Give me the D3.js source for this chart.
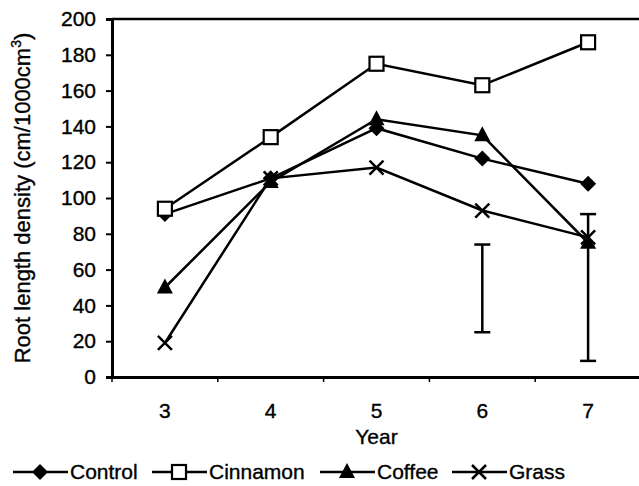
<!DOCTYPE html>
<html>
<head>
<meta charset="utf-8">
<script src="https://cdn.jsdelivr.net/npm/d3@7"></script>
<style>
  body { margin: 0; background: #fff; }
  svg { font-family: "Liberation Sans", Arial, sans-serif; }
  svg text { stroke: #000; stroke-width: 0.35px; }
</style>
</head>
<body>
<svg></svg>
<script>
let years = [3, 4, 5, 6, 7];
let control = [91, 111, 139, 122, 108];
let cinnamon = [94, 134, 175, 163, 187];
let coffee = [50, 109, 144, 135, 75];
let grass = [19, 111, 117, 93, 78];
let errYears = [6, 7];
let errLow = [25, 9];
let errHigh = [74, 91];
let yTicks = [0, 20, 40, 60, 80, 100, 120, 140, 160, 180, 200];

let width = 639;
let height = 486;
let plotLeft = 112, plotRight = 641, plotTop = 19, plotBottom = 377;
let fontSize = 21;

let svg = d3.select("svg").attr("width", width).attr("height", height);

let xScale = d3.scaleBand().domain(years).range([plotLeft, plotRight]);
let yScale = d3.scaleLinear().domain([0, 200]).range([plotBottom, plotTop]);
let xc = d => xScale(d) + xScale.bandwidth() / 2;

let series = [
  { name: "Control", values: control, shape: "diamond" },
  { name: "Cinnamon", values: cinnamon, shape: "square" },
  { name: "Coffee", values: coffee, shape: "triangle" },
  { name: "Grass", values: grass, shape: "cross" },
];

let drawMarker = (g, shape, x, y) => {
  if (shape == "diamond") {
    g.append("path").attr("d", "M0,-8L8,0L0,8L-8,0Z")
      .attr("transform", "translate(" + x + "," + y + ")").attr("fill", "#000");
  } else if (shape == "square") {
    g.append("rect").attr("x", x - 7).attr("y", y - 7).attr("width", 14).attr("height", 14)
      .attr("fill", "#fff").attr("stroke", "#000").attr("stroke-width", 2.2);
  } else if (shape == "triangle") {
    g.append("path").attr("d", "M0,-9L8,6L-8,6Z")
      .attr("transform", "translate(" + x + "," + y + ")").attr("fill", "#000");
  } else {
    g.append("path").attr("d", "M-7,-7L7,7M-7,7L7,-7")
      .attr("transform", "translate(" + x + "," + y + ")")
      .attr("stroke", "#000").attr("stroke-width", 2.5).attr("fill", "none");
  }
};

// frame top line
svg.append("line").attr("x1", plotLeft).attr("x2", plotRight).attr("y1", plotTop).attr("y2", plotTop)
  .attr("stroke", "#000").attr("stroke-width", 2.5);

// y axis
let yAxis = d3.axisLeft(yScale).tickValues(yTicks).tickSize(6).tickPadding(10);
let gy = svg.append("g").attr("transform", "translate(" + plotLeft + ",0)").call(yAxis);
gy.select(".domain").attr("stroke-width", 3);
gy.selectAll(".tick line").attr("stroke-width", 2);
gy.selectAll("text").attr("font-size", fontSize).attr("font-family", "Liberation Sans, Arial, sans-serif").attr("fill", "#000");

// x axis
let xAxis = d3.axisBottom(xScale).tickSize(0).tickPadding(26);
let gx = svg.append("g").attr("transform", "translate(0," + plotBottom + ")").call(xAxis);
gx.select(".domain").attr("stroke-width", 3);
gx.selectAll("text").attr("font-size", fontSize).attr("font-family", "Liberation Sans, Arial, sans-serif").attr("fill", "#000");
gx.selectAll(".bt").data(years).enter().append("line")
  .attr("x1", d => xScale(d)).attr("x2", d => xScale(d))
  .attr("y1", 0).attr("y2", 5).attr("stroke", "#000").attr("stroke-width", 1.5);

// axis titles
svg.append("text").attr("x", xc(5)).attr("y", 444).attr("text-anchor", "middle")
  .attr("font-size", fontSize).text("Year");
let yt = svg.append("text").attr("transform", "translate(30," + (plotTop + plotBottom) / 2 + ") rotate(-90)")
  .attr("text-anchor", "middle").attr("font-size", 22);
yt.append("tspan").text("Root length density (cm/1000cm");
yt.append("tspan").attr("font-size", 14).attr("dy", -9).text("3");
yt.append("tspan").attr("dy", 9).text(")");

// error bars
errYears.forEach((yr, i) => {
  let g = svg.append("g").attr("stroke", "#000").attr("stroke-width", 2.5);
  g.append("line").attr("x1", xc(yr)).attr("x2", xc(yr)).attr("y1", yScale(errLow[i])).attr("y2", yScale(errHigh[i]));
  [errLow[i], errHigh[i]].forEach(v => {
    g.append("line").attr("x1", xc(yr) - 8).attr("x2", xc(yr) + 8).attr("y1", yScale(v)).attr("y2", yScale(v));
  });
});

// lines and markers
let line = d3.line().x((d, i) => xc(years[i])).y(d => yScale(d));
series.forEach(s => {
  svg.append("path").datum(s.values).attr("d", line)
    .attr("fill", "none").attr("stroke", "#000").attr("stroke-width", 2.5);
});
series.forEach(s => {
  let g = svg.append("g");
  s.values.forEach((v, i) => drawMarker(g, s.shape, xc(years[i]), yScale(v)));
});

// legend
let legendX = [13, 152, 320, 452];
let legendY = 472;
series.forEach((s, i) => {
  let g = svg.append("g");
  let x0 = legendX[i];
  g.append("line").attr("x1", x0).attr("x2", x0 + 55).attr("y1", legendY).attr("y2", legendY)
    .attr("stroke", "#000").attr("stroke-width", 2.5);
  drawMarker(g, s.shape, x0 + 27, legendY);
  g.append("text").attr("x", x0 + 57).attr("y", legendY + 7).attr("font-size", fontSize).text(s.name);
});
</script>
</body>
</html>
